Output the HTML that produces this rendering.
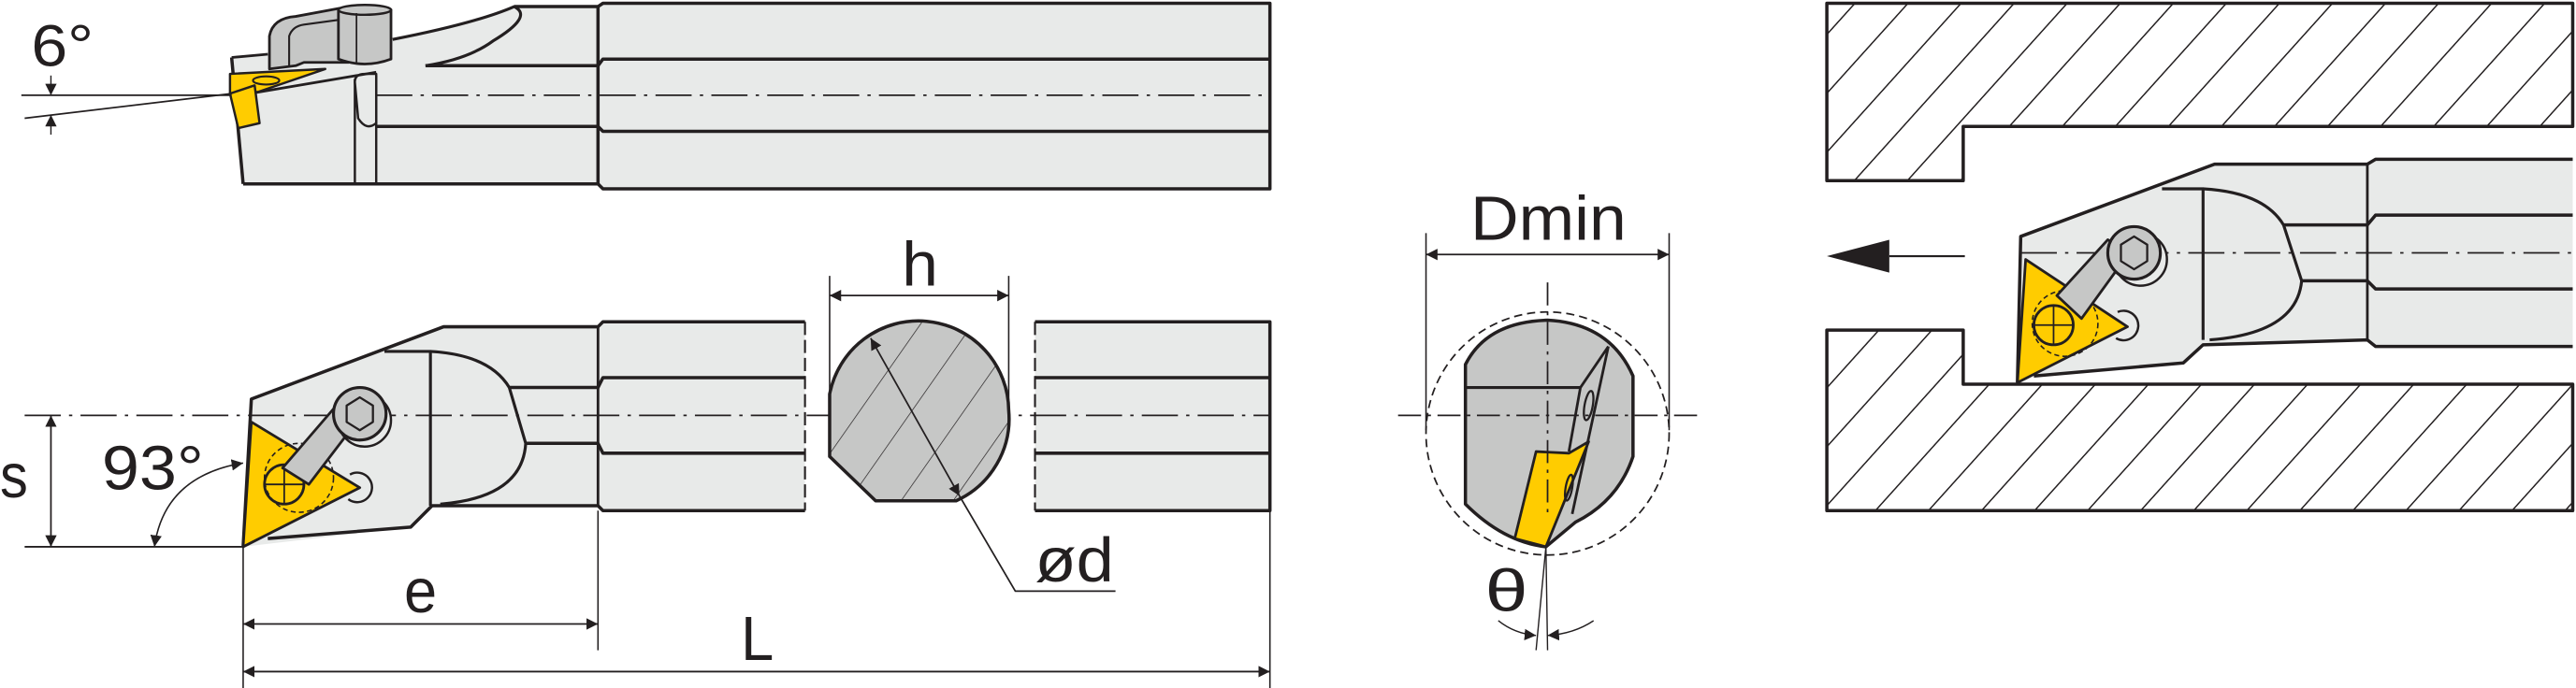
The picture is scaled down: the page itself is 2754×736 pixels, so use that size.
<!DOCTYPE html>
<html><head><meta charset="utf-8"><style>
html,body{margin:0;padding:0;background:#fff;}
svg{display:block;}
text{font-family:"Liberation Sans",sans-serif;fill:#231f20;}
</style></head><body>
<svg width="2754" height="736" viewBox="0 0 1568 419" preserveAspectRatio="none" xmlns="http://www.w3.org/2000/svg">
<defs>
<pattern id="hw" patternUnits="userSpaceOnUse" width="24" height="24" patternTransform="rotate(42)">
<line x1="0" y1="0" x2="0" y2="24" stroke="#231f20" stroke-width="1.7"/></pattern>
<pattern id="hc" patternUnits="userSpaceOnUse" width="26" height="26" patternTransform="rotate(35)">
<line x1="0" y1="0" x2="0" y2="26" stroke="#231f20" stroke-width="0.8"/></pattern>
<marker id="ar" viewBox="0 0 10 10" refX="10" refY="5" markerWidth="7" markerHeight="7" orient="auto-start-reverse" markerUnits="userSpaceOnUse"><path d="M0,0 L10,5 L0,10 Z" fill="#231f20"/></marker>
</defs>
<g stroke="#231f20" stroke-linejoin="round" fill="none">

<!-- ============ TOP VIEW (side) ============ -->
<path d="M141,35 L163,32 L239,24 Q290,14 313,4 L364,4 L367,2 L773,2 L773,115 L367,115 L364,112 L148,112 Z" fill="#e8eae9" stroke="none"/>
<path d="M148,112 L364,112 L367,115 L773,115 L773,2 L367,2 L364,4 L313,4" stroke-width="2"/>
<line x1="364" y1="4" x2="364" y2="112" stroke-width="2"/>
<path d="M259,40 L364,40 L367,36 L773,36" stroke-width="2"/>
<path d="M229,77 L364,77 L367,80 L773,80" stroke-width="2"/>
<path d="M239,24 Q290,14 313,4 Q325,10 300,25 Q285,36 259,40" stroke-width="1.8"/>
<path d="M141,35 L148,112" stroke-width="2"/>
<path d="M141,35 L163,33" stroke-width="1.6"/>
<line x1="216" y1="48" x2="216" y2="112" stroke-width="1.4"/>
<line x1="229" y1="46" x2="229" y2="112" stroke-width="1.4"/>
<path d="M216,50 Q216,45 222,45 L229,45 L229,75 Q223,80 218,72 Z" fill="#e8eae9" stroke-width="1.4"/>
<path d="M152,57 L229,44" stroke-width="1.6"/>
<path d="M164,42 L164,22 Q166,11 180,10 L207,5 L207,31 L212,31 L212,38 L185,38 L180,40 Z" fill="#c6c7c6" stroke-width="1.6"/>
<path d="M176,40 L176,22 Q178,16 185,15 L207,12" stroke-width="1.2"/>
<path d="M206,6 L206,36 Q222,42 238,36 L238,6 Z" fill="#c6c7c6" stroke-width="1.6"/>
<ellipse cx="222" cy="6" rx="16" ry="3" fill="#c6c7c6" stroke-width="1.4"/>
<line x1="217" y1="8" x2="217" y2="38" stroke-width="1"/>
<path d="M140,45 L198,42 L157,56 L140,57 Z" fill="#ffcc00" stroke-width="1.4"/>
<ellipse cx="162" cy="49" rx="8" ry="2.5" stroke-width="1.2"/>
<path d="M140,57 L155,52 L158,75 L145,78 Z" fill="#ffcc00" stroke-width="1.4"/>
<line x1="13" y1="58" x2="141" y2="58" stroke-width="1"/>
<line x1="15" y1="72" x2="141" y2="57" stroke-width="1"/>
<line x1="31" y1="46" x2="31" y2="58" stroke-width="0.8" marker-end="url(#ar)"/>
<line x1="31" y1="82" x2="31" y2="70" stroke-width="0.8" marker-end="url(#ar)"/>
<line x1="229" y1="58" x2="773" y2="58" stroke-width="1" stroke-dasharray="22,5,2,5"/>

<!-- ============ BOTTOM VIEW ============ -->
<path d="M153,243 L270,199 L364,199 L367,196 L490,196 L490,311 L367,311 L364,308 L263,308 L250,321 L148,333 Z" fill="#e8eae9" stroke="none"/>
<rect x="630" y="196" width="143" height="115" fill="#e8eae9" stroke="none"/>
<path d="M148,333 L153,243 L270,199 L364,199 L367,196 L490,196" stroke-width="2"/>
<path d="M163,328 L250,321 L263,308 L364,308 L367,311 L490,311" stroke-width="2"/>
<path d="M310,236 L364,236 L367,230 L490,230" stroke-width="2"/>
<path d="M320,270 L364,270 L367,276 L490,276" stroke-width="2"/>
<line x1="364" y1="199" x2="364" y2="308" stroke-width="1.6"/>
<path d="M234,214 L262,214 L262,308" stroke-width="1.8"/>
<path d="M262,214 Q298,216 310,236 L320,270 Q318,303 268,307" stroke-width="1.8"/>
<path d="M630,196 L773,196 L773,311 L630,311 M630,230 L773,230 M630,276 L773,276" stroke-width="2"/>
<line x1="490" y1="196" x2="490" y2="311" stroke-width="1.2" stroke-dasharray="8,3"/>
<line x1="630" y1="196" x2="630" y2="311" stroke-width="1.2" stroke-dasharray="8,3"/>
<line x1="15" y1="253" x2="773" y2="253" stroke-width="1" stroke-dasharray="22,5,2,5"/>
<path d="M153,257 L219,297 L148,333 Z" fill="#ffcc00" stroke-width="1.6"/>
<circle cx="182" cy="291" r="21" stroke-width="0.9" stroke-dasharray="3,2"/>
<circle cx="173" cy="295" r="12" stroke-width="1.6"/>
<path d="M161,295 H185 M173,283 V307" stroke-width="1"/>
<path d="M213,289 A9,9 0 1 1 212,304" stroke-width="1.4"/>
<path d="M172,285 L203,249 L217,257 L188,295 Z" fill="#c6c7c6" stroke-width="1.6"/>
<circle cx="222" cy="256" r="16" fill="#e8eae9" stroke-width="1.4"/>
<circle cx="219" cy="252" r="16" fill="#c6c7c6" stroke-width="1.8"/>
<path d="M219,242 L227,247 L227,257 L219,262 L211,257 L211,247 Z" fill="#c6c7c6" stroke-width="1.3"/>
<path d="M505,278 L505,240 A55,55 0 0 1 614,250 A55,55 0 0 1 582,305 L533,305 Z" fill="#c6c7c6"/>
<path d="M505,278 L505,240 A55,55 0 0 1 614,250 A55,55 0 0 1 582,305 L533,305 Z" fill="url(#hc)" stroke-width="2"/>
<line x1="530" y1="206" x2="584" y2="302" stroke-width="1" marker-start="url(#ar)" marker-end="url(#ar)"/>
<polyline points="584,302 618,360 679,360" stroke-width="1"/>
<line x1="505" y1="168" x2="505" y2="245" stroke-width="0.9"/>
<line x1="614" y1="168" x2="614" y2="255" stroke-width="0.9"/>
<line x1="505" y1="180" x2="614" y2="180" stroke-width="1" marker-start="url(#ar)" marker-end="url(#ar)"/>
<line x1="15" y1="333" x2="148" y2="333" stroke-width="1"/>
<line x1="31" y1="253" x2="31" y2="333" stroke-width="1" marker-start="url(#ar)" marker-end="url(#ar)"/>
<path d="M148,282 Q100,290 94,333" stroke-width="0.9" marker-start="url(#ar)" marker-end="url(#ar)"/>
<line x1="148" y1="333" x2="148" y2="419" stroke-width="0.9"/>
<line x1="364" y1="311" x2="364" y2="396" stroke-width="0.9"/>
<line x1="773" y1="311" x2="773" y2="419" stroke-width="0.9"/>
<line x1="148" y1="380" x2="364" y2="380" stroke-width="1" marker-start="url(#ar)" marker-end="url(#ar)"/>
<line x1="148" y1="409" x2="773" y2="409" stroke-width="1" marker-start="url(#ar)" marker-end="url(#ar)"/>

<!-- ============ MIDDLE ============ -->
<line x1="868" y1="142" x2="868" y2="262" stroke-width="0.9"/>
<line x1="1016" y1="142" x2="1016" y2="262" stroke-width="0.9"/>
<line x1="868" y1="155" x2="1016" y2="155" stroke-width="1" marker-start="url(#ar)" marker-end="url(#ar)"/>
<circle cx="942" cy="264" r="74" stroke-width="1" stroke-dasharray="5,3"/>
<path d="M892,307 L892,222 Q905,196 942,195 Q980,197 994,229 L994,278 Q985,305 959,318 L941,333 Q915,330 892,307 Z" fill="#c6c7c6" stroke-width="2"/>
<line x1="892" y1="236" x2="962" y2="236" stroke-width="1.8"/>
<path d="M979,211 L962,236 L955,275" stroke-width="1.6"/>
<line x1="979" y1="211" x2="957" y2="313" stroke-width="1.6"/>
<ellipse cx="967" cy="247" rx="2.5" ry="9" transform="rotate(10 967 247)" stroke-width="1.3"/>
<path d="M935,275 L955,276 L967,269 L941,333 L922,328 Z" fill="#ffcc00" stroke-width="1.6"/>
<ellipse cx="955" cy="297" rx="2" ry="8" transform="rotate(10 955 297)" stroke-width="1.3"/>
<line x1="851" y1="253" x2="1033" y2="253" stroke-width="1" stroke-dasharray="14,4,2,4"/>
<line x1="942" y1="172" x2="942" y2="314" stroke-width="1" stroke-dasharray="14,4,2,4"/>
<line x1="941" y1="333" x2="935" y2="396" stroke-width="0.8"/>
<line x1="941" y1="333" x2="942" y2="396" stroke-width="0.8"/>
<path d="M912,378 Q922,386 935,387" stroke-width="0.8" marker-end="url(#ar)"/>
<path d="M970,378 Q958,386 942,387" stroke-width="0.8" marker-end="url(#ar)"/>

<!-- ============ RIGHT ============ -->
<path d="M1112,2 L1566,2 L1566,77 L1195,77 L1195,110 L1112,110 Z" fill="url(#hw)" stroke-width="2"/>
<path d="M1112,201 L1195,201 L1195,234 L1566,234 L1566,311 L1112,311 Z" fill="url(#hw)" stroke-width="2"/>
<line x1="1150" y1="156" x2="1196" y2="156" stroke-width="1.2"/>
<path d="M1112,156 L1150,146 L1150,166 Z" fill="#231f20" stroke="none"/>
<path d="M1230,144 L1348,100 L1441,100 L1446,97 L1566,97 L1566,211 L1446,211 L1441,207 L1341,210 L1329,221 L1238,229 L1228,233 Z" fill="#e8eae9" stroke="none"/>
<path d="M1228,233 L1230,144 L1348,100 L1441,100 L1446,97 L1566,97" stroke-width="2"/>
<path d="M1238,229 L1329,221 L1341,210 L1441,207 L1446,211 L1566,211" stroke-width="2"/>
<path d="M1390,137 L1441,137 L1446,131 L1566,131" stroke-width="2"/>
<path d="M1401,171 L1441,171 L1446,176 L1566,176" stroke-width="2"/>
<line x1="1441" y1="100" x2="1441" y2="207" stroke-width="1.6"/>
<path d="M1316,115 L1341,115 L1341,207" stroke-width="1.8"/>
<path d="M1341,115 Q1378,117 1390,137 L1401,171 Q1398,203 1345,207" stroke-width="1.8"/>
<line x1="1230" y1="154" x2="1566" y2="154" stroke-width="1" stroke-dasharray="22,5,2,5"/>
<path d="M1233,158 L1295,199 L1228,233 Z" fill="#ffcc00" stroke-width="1.6"/>
<circle cx="1257" cy="197" r="20" stroke-width="0.9" stroke-dasharray="3,2"/>
<circle cx="1250" cy="198" r="12" stroke-width="1.6"/>
<path d="M1238,198 H1262 M1250,186 V210" stroke-width="1"/>
<path d="M1289,190 A9,9 0 1 1 1288,206" stroke-width="1.4"/>
<path d="M1252,180 L1283,146 L1296,154 L1267,194 Z" fill="#c6c7c6" stroke-width="1.6"/>
<circle cx="1303" cy="158" r="16" fill="#e8eae9" stroke-width="1.4"/>
<circle cx="1299" cy="154" r="16" fill="#c6c7c6" stroke-width="1.8"/>
<path d="M1299,144 L1307,149 L1307,159 L1299,164 L1291,159 L1291,149 Z" fill="#c6c7c6" stroke-width="1.3"/>
</g>

<text x="19" y="40" font-size="36" textLength="38" lengthAdjust="spacingAndGlyphs">6°</text>
<text x="0" y="303" font-size="38" textLength="17" lengthAdjust="spacingAndGlyphs">s</text>
<text x="62" y="298" font-size="38" textLength="62" lengthAdjust="spacingAndGlyphs">93°</text>
<text x="246" y="373" font-size="38" textLength="20" lengthAdjust="spacingAndGlyphs">e</text>
<text x="451" y="402" font-size="38" textLength="20" lengthAdjust="spacingAndGlyphs">L</text>
<text x="549" y="174" font-size="38" textLength="22" lengthAdjust="spacingAndGlyphs">h</text>
<text x="630" y="354" font-size="38" textLength="48" lengthAdjust="spacingAndGlyphs">ød</text>
<text x="895" y="146" font-size="38" textLength="95" lengthAdjust="spacingAndGlyphs">Dmin</text>
<text x="904" y="372" font-size="36" textLength="26" lengthAdjust="spacingAndGlyphs">θ</text>
</svg>
</body></html>
